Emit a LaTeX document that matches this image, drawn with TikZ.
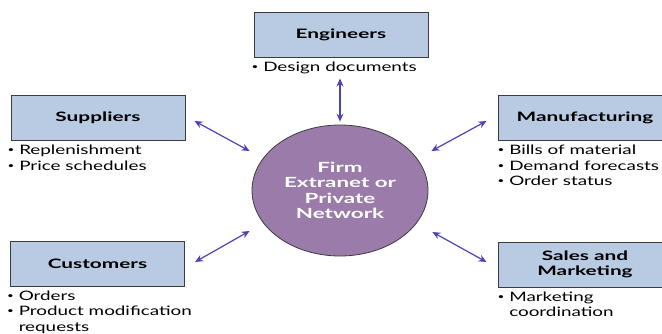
\documentclass[tikz,border=0pt]{standalone}
\usepackage{fontspec}
\setmainfont[FakeStretch=1.45,BoldFeatures={FakeStretch=1.6}]{Lato}
\usetikzlibrary{arrows.meta,shapes.geometric}
\definecolor{boxblue}{HTML}{B9CBE3}
\definecolor{hubpurple}{HTML}{9A7BA9}
\definecolor{linkblue}{HTML}{4A44B4}
\definecolor{edgegray}{HTML}{3C3C3C}
\newcommand\diagfont{\fontsize{13}{15.5}\selectfont}
\newcommand\hubfont{\fontsize{14}{15.5}\selectfont}
\newcommand\blt{\raisebox{0.3ex}{\fontsize{8}{8}\selectfont\textbullet}\ }

\begin{document}
\begin{tikzpicture}[x=1pt,y=-1pt,
    unit/.style={draw=edgegray,line width=1pt,fill=boxblue,minimum width=174pt,
        minimum height=45pt,font=\diagfont\bfseries,align=center},
    hub/.style={ellipse,draw=edgegray,line width=0.8pt,fill=hubpurple,minimum width=176pt,
        minimum height=131pt,font=\hubfont\bfseries,text=white,align=center},
    facts/.style={anchor=north west,inner sep=0pt,align=left,font=\diagfont},
    link/.style={linkblue,line width=1.2pt,{Stealth[length=8pt,width=7pt]}-{Stealth[length=8pt,width=7pt]}}]
    \useasboundingbox (0,0) rectangle (662,333);

    \node[hub] (net) at (340,190.5) {Firm\\Extranet or\\Private\\Network};

    \node[unit] (eng) at (341,34.5) {Engineers};
    \node[unit] (sup) at (98,118) {Suppliers};
    \node[unit] (man) at (585,118) {Manufacturing};
    \node[unit] (cus) at (97.5,263.5) {Customers};
    \node[unit] (sal) at (585,264.5) {Sales and\\Marketing};

    \node[facts] (engl) at ([shift={(-2,4)}]eng.south west) {\blt Design documents};
    \node[facts] (supl) at ([shift={(-3,4)}]sup.south west)
        {\blt Replenishment\\\blt Price schedules};
    \node[facts] (manl) at ([shift={(0,4)}]man.south west)
        {\blt Bills of material\\\blt Demand forecasts\\\blt Order status};
    \node[facts] (cusl) at ([shift={(-3,4)}]cus.south west)
        {\blt Orders\\\blt Product modification\\\hphantom{\blt}requests};
    \node[facts] (sall) at ([shift={(0,4)}]sal.south west)
        {\blt Marketing\\\hphantom{\blt}coordination};

    \draw[link] ([shift={(-1,21)}]eng.south) -- ([shift={(0,-3)}]net.north);
    \draw[link] ([shift={(9,3)}]sup.east) -- ([shift={(-2,-39.5)}]net.west);
    \draw[link] ([shift={(3,-39.5)}]net.east) -- ([shift={(-11,3)}]man.west);
    \draw[link] ([shift={(10,-1.5)}]cus.east) -- ([shift={(-2,40.5)}]net.west);
    \draw[link] ([shift={(4,41.5)}]net.east) -- ([shift={(-11,-2.5)}]sal.west);
\end{tikzpicture}
\end{document}
